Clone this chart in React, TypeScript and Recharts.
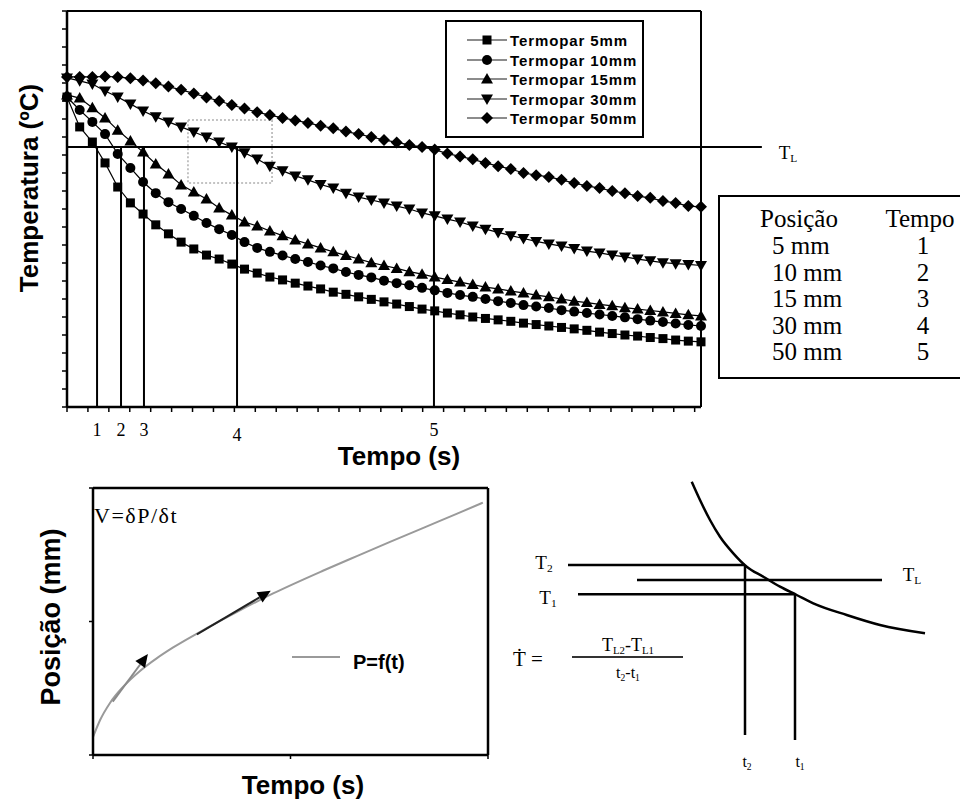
import React from "react";
import { LineChart, Line, XAxis, YAxis, ReferenceLine, ReferenceArea } from "recharts";

const SERIF = '"Liberation Serif", "Times New Roman", serif';
const SANS = '"Liberation Sans", Arial, sans-serif';

// ---- top chart: temperature curves of the five thermocouples
const TIME = [
  0, 1, 2, 3, 4, 5, 6, 7, 8, 9, 10, 11, 12, 13, 14, 15, 16, 17, 18, 19, 20, 21, 22, 23, 24, 25,
  26, 27, 28, 29, 30, 31, 32, 33, 34, 35, 36, 37, 38, 39, 40, 41, 42, 43, 44, 45, 46, 47, 48, 49, 50,
];
const T_5MM = [
  8.61, 7.78, 7.36, 6.78, 6.11, 5.67, 5.36, 5.06, 4.81, 4.58, 4.39, 4.22, 4.11, 3.97, 3.83, 3.72, 3.61,
  3.53, 3.44, 3.36, 3.28, 3.19, 3.13, 3.06, 2.99, 2.92, 2.86, 2.79, 2.72, 2.67, 2.61, 2.56, 2.5, 2.46,
  2.42, 2.38, 2.33, 2.29, 2.25, 2.21, 2.17, 2.13, 2.08, 2.04, 2.0, 1.97, 1.93, 1.9, 1.86, 1.83, 1.81,
];
const T_10MM = [
  8.61, 8.25, 7.92, 7.58, 7.03, 6.64, 6.25, 5.94, 5.69, 5.5, 5.31, 5.11, 4.94, 4.78, 4.58, 4.42, 4.31,
  4.21, 4.11, 4.03, 3.93, 3.85, 3.75, 3.67, 3.6, 3.51, 3.44, 3.38, 3.31, 3.24, 3.17, 3.11, 3.06, 3.0,
  2.94, 2.89, 2.83, 2.79, 2.75, 2.69, 2.65, 2.61, 2.57, 2.53, 2.49, 2.44, 2.4, 2.36, 2.32, 2.28, 2.25,
];
const T_15MM = [
  8.67, 8.58, 8.31, 8.03, 7.69, 7.39, 7.08, 6.75, 6.47, 6.17, 5.97, 5.78, 5.53, 5.33, 5.14, 5.03, 4.89,
  4.76, 4.64, 4.53, 4.42, 4.31, 4.21, 4.11, 4.01, 3.93, 3.85, 3.76, 3.69, 3.61, 3.54, 3.47, 3.4, 3.33,
  3.28, 3.22, 3.17, 3.11, 3.06, 3.0, 2.94, 2.9, 2.85, 2.81, 2.76, 2.72, 2.68, 2.64, 2.6, 2.56, 2.53,
];
const T_30MM = [
  9.14, 9.06, 8.97, 8.78, 8.61, 8.42, 8.22, 8.06, 7.92, 7.78, 7.64, 7.5, 7.36, 7.22, 7.06, 6.89, 6.69,
  6.56, 6.42, 6.31, 6.18, 6.08, 5.94, 5.83, 5.75, 5.67, 5.58, 5.5, 5.39, 5.31, 5.22, 5.14, 5.03, 4.94,
  4.85, 4.76, 4.68, 4.6, 4.53, 4.47, 4.4, 4.33, 4.28, 4.22, 4.17, 4.11, 4.06, 4.01, 3.98, 3.96, 3.93,
];
const T_50MM = [
  9.17, 9.17, 9.17, 9.18, 9.17, 9.13, 9.07, 8.99, 8.9, 8.81, 8.71, 8.6, 8.5, 8.39, 8.29, 8.19, 8.11,
  8.03, 7.96, 7.89, 7.81, 7.74, 7.65, 7.58, 7.5, 7.42, 7.35, 7.28, 7.22, 7.15, 7.04, 6.96, 6.88, 6.78,
  6.69, 6.61, 6.5, 6.44, 6.39, 6.31, 6.22, 6.14, 6.08, 6.0, 5.94, 5.86, 5.81, 5.72, 5.67, 5.58, 5.56,
];
const SERIES = [
  { key: "t5", name: "Termopar 5mm", shape: "square", values: T_5MM },
  { key: "t10", name: "Termopar 10mm", shape: "circle", values: T_10MM },
  { key: "t15", name: "Termopar 15mm", shape: "triangle", values: T_15MM },
  { key: "t30", name: "Termopar 30mm", shape: "invTriangle", values: T_30MM },
  { key: "t50", name: "Termopar 50mm", shape: "diamond", values: T_50MM },
];
const T_LIQUIDUS = 7.22;
const CROSS_TIMES = [2.37, 4.26, 6.07, 13.41, 28.94];
const CROSS_LABELS = ["1", "2", "3", "4", "5"];
const ZOOM_BOX = { x1: 9.54, x2: 16.17, y1: 6.22, y2: 7.97 };
const X_TICKS = [
  0, 1.65, 3.3, 4.95, 6.6, 8.25, 9.9, 11.55, 13.2, 14.85, 16.5, 18.15, 19.8, 21.45, 23.1, 24.75, 26.4,
  28.05, 29.7, 31.35, 33, 34.65, 36.3, 37.95, 39.6, 41.25, 42.9, 44.55, 46.2, 47.85, 49.5,
];
const Y_TICKS = [
  0, 0.5, 1, 1.5, 2, 2.5, 3, 3.5, 4, 4.5, 5, 5.5, 6, 6.5, 7, 7.5, 8, 8.5, 9, 9.5, 10, 10.5, 11,
];

const TABLE_POS = ["5 mm", "10 mm", "15 mm", "30 mm", "50 mm"];
const TABLE_TIME = ["1", "2", "3", "4", "5"];

// ---- bottom left: position x time
const P_TIME = [0, 0.18, 0.43, 0.76, 1.19, 1.62, 2.03, 2.89, 3.72, 4.56, 5.82, 6.68, 7.52, 8.35, 9.22, 9.87];
const P_POS = [0.67, 1.31, 1.95, 2.55, 3.15, 3.63, 4.03, 4.76, 5.42, 6.05, 6.9, 7.45, 7.98, 8.5, 9.04, 9.45];
const TANGENT_1 = [{ x: 0.5, y: 2.0 }, { x: 1.39, y: 3.78 }];
const TANGENT_2 = [{ x: 2.63, y: 4.52 }, { x: 4.5, y: 6.15 }];

// ---- bottom right: sketch of the cooling rate at T_L
const SK_X = [15.17, 16.0, 17.0, 18.0, 19.33, 20.67, 22.33, 24.0, 25.67, 27.33, 30.67, 34.0, 38.5];
const SK_Y = [29.83, 28.0, 26.0, 24.33, 22.67, 21.33, 20.33, 19.33, 18.5, 17.67, 16.5, 15.5, 14.67];
const SK_T2 = 21.5;
const SK_TL = 20.0;
const SK_T1 = 18.57;
const SK_t2 = 20.5;
const SK_t1 = 25.5;

const topRows = TIME.map((t, i) => {
  const row: Record<string, number> = { t };
  SERIES.forEach((s) => (row[s.key] = s.values[i]));
  return row;
});
const posRows = P_TIME.map((t, i) => ({ t, p: P_POS[i] }));
const sketchRows = SK_X.map((x, i) => ({ x, y: SK_Y[i] }));

function Marker({ shape, cx, cy }: { shape: string; cx: number; cy: number }) {
  if (cx == null || cy == null) return null;
  switch (shape) {
    case "square":
      return <rect x={cx - 4.5} y={cy - 4.5} width={9} height={9} fill="#000" />;
    case "circle":
      return <circle cx={cx} cy={cy} r={5} fill="#000" />;
    case "triangle":
      return <polygon points={`${cx},${cy - 6} ${cx + 6},${cy + 4.5} ${cx - 6},${cy + 4.5}`} fill="#000" />;
    case "invTriangle":
      return <polygon points={`${cx},${cy + 6} ${cx + 6},${cy - 4.5} ${cx - 6},${cy - 4.5}`} fill="#000" />;
    default:
      return <polygon points={`${cx},${cy - 6} ${cx + 6},${cy} ${cx},${cy + 6} ${cx - 6},${cy}`} fill="#000" />;
  }
}

function Txt(props: any) {
  const { x, y, size, font = SERIF, bold, rotate, start, spacing, children } = props;
  return (
    <div
      style={{
        position: "absolute",
        left: x,
        top: y,
        fontSize: size,
        fontFamily: font,
        fontWeight: bold ? 700 : 400,
        letterSpacing: spacing,
        lineHeight: 1,
        whiteSpace: "nowrap",
        color: "#000",
        transform: `translate(${start ? "0" : "-50%"}, -50%)${rotate ? ` rotate(${rotate}deg)` : ""}`,
      }}
    >
      {children}
    </div>
  );
}

const Sub = ({ children }: { children: React.ReactNode }) => (
  <span style={{ fontSize: "0.6em", position: "relative", top: "0.3em" }}>{children}</span>
);

function arrow(color: string) {
  return (p: any) => {
    const { x1, y1, x2, y2 } = p;
    const a = Math.atan2(y2 - y1, x2 - x1);
    const bx = x2 - 13 * Math.cos(a);
    const by = y2 - 13 * Math.sin(a);
    const s = Math.sin(a);
    const c = Math.cos(a);
    return (
      <g>
        <line x1={x1} y1={y1} x2={bx} y2={by} stroke={color} strokeWidth={2} />
        <polygon points={`${x2},${y2} ${bx - 6 * s},${by + 6 * c} ${bx + 6 * s},${by - 6 * c}`} fill="#000" />
      </g>
    );
  };
}

const blank = () => "";

export default function App() {
  return (
    <div style={{ position: "absolute", left: 0, top: 0, width: 960, height: 804, background: "#fff", overflow: "hidden" }}>
      <div style={{ position: "absolute", left: 0, top: 0 }}>
        <LineChart width={960} height={470} data={topRows} margin={{ top: 11, right: 259, bottom: 23, left: 0 }}>
          <XAxis
            type="number"
            dataKey="t"
            domain={[0, 50]}
            ticks={X_TICKS}
            tickFormatter={blank}
            height={40}
            tickSize={5}
            axisLine={{ stroke: "#000", strokeWidth: 2.5 }}
            tickLine={{ stroke: "#000", strokeWidth: 1.5 }}
          />
          <YAxis
            type="number"
            domain={[0, 11]}
            ticks={Y_TICKS}
            tickFormatter={blank}
            width={67}
            tickSize={5}
            axisLine={{ stroke: "#000", strokeWidth: 2.5 }}
            tickLine={{ stroke: "#000", strokeWidth: 1.5 }}
          />
          <ReferenceLine y={11} stroke="#000" strokeWidth={2} />
          <ReferenceLine x={50} stroke="#000" strokeWidth={2} />
          <ReferenceArea
            x1={ZOOM_BOX.x1}
            x2={ZOOM_BOX.x2}
            y1={ZOOM_BOX.y1}
            y2={ZOOM_BOX.y2}
            fill="none"
            stroke="#b0b0b0"
            strokeWidth={1.5}
            strokeDasharray="2 2"
          />
          <ReferenceLine
            segment={[{ x: 0, y: T_LIQUIDUS }, { x: 54.8, y: T_LIQUIDUS }]}
            ifOverflow="visible"
            stroke="#000"
            strokeWidth={2}
          />
          {CROSS_TIMES.map((c, i) => (
            <ReferenceLine
              key={CROSS_LABELS[i]}
              segment={[{ x: c, y: T_LIQUIDUS }, { x: c, y: 0 }]}
              stroke="#000"
              strokeWidth={2}
              label={{
                value: CROSS_LABELS[i],
                position: "bottom",
                offset: i === 3 ? 21 : 16,
                fill: "#000",
                fontFamily: SERIF,
                fontSize: 18,
              }}
            />
          ))}
          {SERIES.map((s) => (
            <Line
              key={s.key}
              dataKey={s.key}
              type="linear"
              stroke="#000"
              strokeWidth={1.2}
              isAnimationActive={false}
              activeDot={false}
              dot={(p: any) => <Marker key={`${s.key}-${p.index}`} shape={s.shape} cx={p.cx} cy={p.cy} />}
            />
          ))}
        </LineChart>
      </div>

      <Txt x={29} y={188} size={26} font={SANS} bold rotate={-90}>Temperatura (ºC)</Txt>
      <Txt x={399} y={456} size={26} font={SANS} bold>Tempo (s)</Txt>
      <Txt x={788} y={152} size={19}>T<Sub>L</Sub></Txt>

      <div
        style={{
          position: "absolute",
          left: 445,
          top: 20,
          width: 199,
          height: 118,
          border: "2px solid #000",
          boxSizing: "border-box",
        }}
      />
      {SERIES.map((s, i) => (
        <React.Fragment key={s.key}>
          <svg style={{ position: "absolute", left: 465, top: 40 + i * 19.5 - 7 }} width={44} height={14}>
            <line x1={2} y1={7} x2={42} y2={7} stroke="#666" strokeWidth={1.5} />
            <Marker shape={s.shape} cx={22} cy={7} />
          </svg>
          <Txt x={510} y={40 + i * 19.5} size={15} font={SANS} bold start spacing={0.9}>
            {s.name}
          </Txt>
        </React.Fragment>
      ))}

      <div
        style={{
          position: "absolute",
          left: 718,
          top: 195,
          width: 250,
          height: 184,
          border: "2.5px solid #000",
          boxSizing: "border-box",
        }}
      />
      <Txt x={799} y={218} size={25}>Posição</Txt>
      <Txt x={920} y={218} size={25}>Tempo</Txt>
      {TABLE_POS.map((p, i) => (
        <React.Fragment key={p}>
          <Txt x={772} y={245 + i * 26.5} size={25} start>{p}</Txt>
          <Txt x={923} y={245 + i * 26.5} size={25}>{TABLE_TIME[i]}</Txt>
        </React.Fragment>
      ))}

      <div style={{ position: "absolute", left: 0, top: 470 }}>
        <LineChart width={500} height={334} data={posRows} margin={{ top: 18, right: 12, bottom: 0, left: 0 }}>
          <XAxis
            type="number"
            dataKey="t"
            domain={[0, 10]}
            ticks={[0, 5, 10]}
            tickFormatter={blank}
            height={49}
            tickSize={4}
            axisLine={{ stroke: "#000", strokeWidth: 2.5 }}
            tickLine={{ stroke: "#000", strokeWidth: 1.5 }}
          />
          <YAxis
            type="number"
            domain={[0, 10]}
            ticks={[0, 5, 10]}
            tickFormatter={blank}
            width={93}
            tickSize={4}
            axisLine={{ stroke: "#000", strokeWidth: 2.5 }}
            tickLine={{ stroke: "#000", strokeWidth: 1.5 }}
          />
          <ReferenceLine y={10} stroke="#000" strokeWidth={2.5} />
          <ReferenceLine x={10} stroke="#000" strokeWidth={2.5} />
          <Line
            dataKey="p"
            type="monotone"
            stroke="#9a9a9a"
            strokeWidth={2}
            dot={false}
            activeDot={false}
            isAnimationActive={false}
          />
          <ReferenceLine segment={TANGENT_1} shape={arrow("#8a8a8a")} />
          <ReferenceLine segment={TANGENT_2} shape={arrow("#222")} />
        </LineChart>
      </div>
      <Txt x={94} y={516} size={22} start spacing={1.5}>V=δP/δt</Txt>
      <div style={{ position: "absolute", left: 292, top: 656, width: 48, height: 2, background: "#9a9a9a" }} />
      <Txt x={353} y={662} size={20} font={SANS} bold start>P=f(t)</Txt>
      <Txt x={51} y={617} size={27} font={SANS} bold rotate={-90}>Posição (mm)</Txt>
      <Txt x={303} y={785} size={26} font={SANS} bold>Tempo (s)</Txt>

      <div style={{ position: "absolute", left: 540, top: 470 }}>
        <LineChart width={400} height={310} data={sketchRows} margin={{ top: 0, right: 0, bottom: 0, left: 0 }}>
          <XAxis type="number" dataKey="x" domain={[0, 40]} hide />
          <YAxis type="number" domain={[0, 31]} hide />
          <Line
            dataKey="y"
            type="monotone"
            stroke="#000"
            strokeWidth={2.5}
            dot={false}
            activeDot={false}
            isAnimationActive={false}
          />
          <ReferenceLine segment={[{ x: 2.8, y: SK_T2 }, { x: SK_t2, y: SK_T2 }]} stroke="#000" strokeWidth={2.5} />
          <ReferenceLine segment={[{ x: 9.7, y: SK_TL }, { x: 34.2, y: SK_TL }]} stroke="#000" strokeWidth={2.5} />
          <ReferenceLine segment={[{ x: 3.8, y: SK_T1 }, { x: SK_t1, y: SK_T1 }]} stroke="#000" strokeWidth={2.5} />
          <ReferenceLine segment={[{ x: SK_t2, y: SK_T2 }, { x: SK_t2, y: 4.5 }]} stroke="#000" strokeWidth={2.5} />
          <ReferenceLine segment={[{ x: SK_t1, y: SK_T1 }, { x: SK_t1, y: 4.0 }]} stroke="#000" strokeWidth={2.5} />
        </LineChart>
      </div>
      <Txt x={544} y={562} size={19}>T<Sub>2</Sub></Txt>
      <Txt x={548} y={597} size={19}>T<Sub>1</Sub></Txt>
      <Txt x={912} y={574} size={19}>T<Sub>L</Sub></Txt>
      <Txt x={747} y={762} size={16}>t<Sub>2</Sub></Txt>
      <Txt x={800} y={762} size={16}>t<Sub>1</Sub></Txt>
      <Txt x={528} y={659} size={21}>Ṫ =</Txt>
      <Txt x={628} y={645} size={18}>T<Sub>L2</Sub>-T<Sub>L1</Sub></Txt>
      <div style={{ position: "absolute", left: 572, top: 656, width: 111, height: 2, background: "#333" }} />
      <Txt x={628} y={673} size={16}>t<Sub>2</Sub>-t<Sub>1</Sub></Txt>
    </div>
  );
}
